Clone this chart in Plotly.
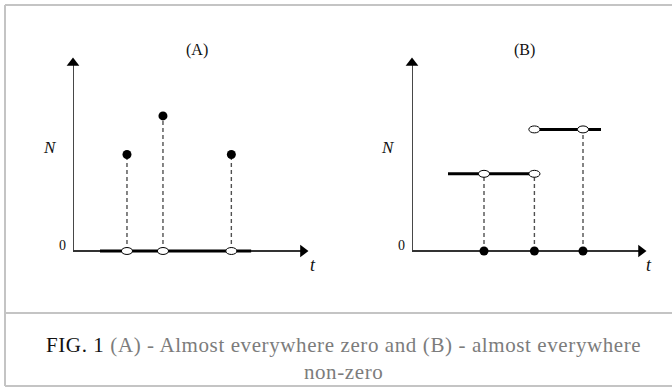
import plotly.graph_objects as go

W, H = 672, 387

# ---- data ----
# Panel A: almost everywhere zero
events_A = [1.5, 2.5, 4.4]          # event times
values_A = [5, 7, 5]                # N at events
support_A = [0.75, 4.95]            # zero segment drawn on t axis

# Panel B: almost everywhere non-zero
events_B = [2.0, 3.4, 4.75]
levels_B = [4, 4, 6.3]              # level at open circle for each event
step_B_x = [[1.0, 3.4], [3.4, 5.25]]
step_B_y = [4, 6.3]

x_max_A, x_max_B, y_min, y_max = 6.53, 6.5, -0.5, 10
axis_head_x, axis_head_y = 6.39, 9.74

caption_bold = "FIG. 1"
caption_line1 = "(A) - Almost everywhere zero and (B) - almost everywhere"
caption_line2 = "non-zero"

def px_x(p):
    return p / W

def px_y(p):
    return 1 - p / H

fig = go.Figure()

AX = "#333333"
DASH = "#505050"
DASH_STYLE = "4px,3px"
OPEN_RX, OPEN_RY = 0.155, 0.18     # half sizes of open ellipses (data units)

def add_axes(xa, ya, head_x):
    fig.add_trace(go.Scatter(x=[0, head_x], y=[0, 0], mode="lines",
                             line=dict(color=AX, width=1.8), xaxis=xa, yaxis=ya,
                             hoverinfo="skip", showlegend=False, cliponaxis=False))
    fig.add_trace(go.Scatter(x=[0, 0], y=[0, axis_head_y], mode="lines",
                             line=dict(color=AX, width=1.8), xaxis=xa, yaxis=ya,
                             hoverinfo="skip", showlegend=False, cliponaxis=False))
    fig.add_trace(go.Scatter(x=[head_x], y=[0], mode="markers",
                             marker=dict(symbol="triangle-right", size=11, color="black"),
                             xaxis=xa, yaxis=ya, hoverinfo="skip", showlegend=False,
                             cliponaxis=False))
    fig.add_trace(go.Scatter(x=[0], y=[axis_head_y], mode="markers",
                             marker=dict(symbol="triangle-up", size=11, color="black"),
                             xaxis=xa, yaxis=ya, hoverinfo="skip", showlegend=False,
                             cliponaxis=False))

def add_open(xs, ys, xa, ya):
    for t, v in zip(xs, ys):
        fig.add_shape(type="circle", xref=xa, yref=ya,
                      x0=t - OPEN_RX, x1=t + OPEN_RX, y0=v - OPEN_RY, y1=v + OPEN_RY,
                      fillcolor="white", line=dict(color="black", width=1), layer="above")

# ---- Panel A ----
add_axes("x", "y", axis_head_x)
fig.add_trace(go.Scatter(x=support_A, y=[0, 0], mode="lines",
                         line=dict(color="black", width=3), xaxis="x", yaxis="y",
                         showlegend=False, cliponaxis=False))
for t, n in zip(events_A, values_A):
    fig.add_trace(go.Scatter(x=[t, t], y=[0, n], mode="lines",
                             line=dict(color=DASH, width=1.4, dash=DASH_STYLE),
                             xaxis="x", yaxis="y", showlegend=False, cliponaxis=False))
fig.add_trace(go.Scatter(x=events_A, y=values_A, mode="markers",
                         marker=dict(size=9, color="black"), xaxis="x", yaxis="y",
                         showlegend=False, cliponaxis=False))
add_open(events_A, [0] * len(events_A), "x", "y")

# ---- Panel B ----
add_axes("x2", "y2", axis_head_x * x_max_B / x_max_A)
for xs, lv in zip(step_B_x, step_B_y):
    fig.add_trace(go.Scatter(x=xs, y=[lv, lv], mode="lines",
                             line=dict(color="black", width=3), xaxis="x2", yaxis="y2",
                             showlegend=False, cliponaxis=False))
for t, lv in zip(events_B, levels_B):
    fig.add_trace(go.Scatter(x=[t, t], y=[0, lv], mode="lines",
                             line=dict(color=DASH, width=1.4, dash=DASH_STYLE),
                             xaxis="x2", yaxis="y2", showlegend=False, cliponaxis=False))
open_x = [events_B[0], events_B[1], events_B[1], events_B[2]]
open_y = [step_B_y[0], step_B_y[0], step_B_y[1], step_B_y[1]]
add_open(open_x, open_y, "x2", "y2")
fig.add_trace(go.Scatter(x=events_B, y=[0] * len(events_B), mode="markers",
                         marker=dict(size=9, color="black"), xaxis="x2", yaxis="y2",
                         showlegend=False, cliponaxis=False))

PX_PER_Y = (251 - 58) / y_max
y_bottom_px = 251 - y_min * PX_PER_Y

ax_common = dict(visible=False, showgrid=False, zeroline=False, fixedrange=True)
fig.update_layout(
    width=W, height=H,
    margin=dict(l=0, r=0, t=0, b=0),
    paper_bgcolor="white", plot_bgcolor="rgba(0,0,0,0)",
    xaxis=dict(domain=[px_x(73), px_x(308)], range=[0, x_max_A], **ax_common),
    yaxis=dict(domain=[px_y(y_bottom_px), px_y(58)], range=[y_min, y_max], **ax_common),
    xaxis2=dict(domain=[px_x(412), px_x(646)], range=[0, x_max_B], anchor="y2", **ax_common),
    yaxis2=dict(domain=[px_y(y_bottom_px), px_y(58)], range=[y_min, y_max], anchor="x2", **ax_common),
    showlegend=False,
)

serif = "Liberation Serif"
labels = [
    ("(A)", 197, 50, 16),
    ("(B)", 524, 50, 16),
    ("<i>N</i>", 50, 147, 17),
    ("<i>N</i>", 388, 147, 17),
    ("0", 62, 245, 14),
    ("0", 401, 245, 14),
    ("<i>t</i>", 313, 265, 18),
    ("<i>t</i>", 649, 265, 18),
]
for txt, x, y, s in labels:
    fig.add_annotation(text=txt, x=px_x(x), y=px_y(y), xref="paper", yref="paper",
                       showarrow=False, xanchor="center", yanchor="middle",
                       font=dict(family=serif, size=s, color="#111111"))

fig.add_annotation(
    text=(f"<span style='color:#111111;letter-spacing:0.6px'>{caption_bold}</span>"
          f"<span style='letter-spacing:0.6px'> {caption_line1}</span><br>"
          f"<span style='letter-spacing:0.6px'>{caption_line2}</span>"),
    x=px_x(343), y=px_y(358), xref="paper", yref="paper", showarrow=False,
    xanchor="center", yanchor="middle", align="center",
    font=dict(family=serif, size=21, color="#7c7c7c"),
)

# border boxes
BORDER = "#c4c4c4"
fig.add_shape(type="line", xref="paper", yref="paper", x0=px_x(5), x1=1, y0=px_y(5), y1=px_y(5),
              line=dict(color=BORDER, width=2))
fig.add_shape(type="line", xref="paper", yref="paper", x0=px_x(5), x1=px_x(5), y0=px_y(5), y1=px_y(386),
              line=dict(color=BORDER, width=2))
fig.add_shape(type="line", xref="paper", yref="paper", x0=px_x(5), x1=1, y0=px_y(313), y1=px_y(313),
              line=dict(color=BORDER, width=2))
fig.add_shape(type="line", xref="paper", yref="paper", x0=px_x(5), x1=1, y0=px_y(386), y1=px_y(386),
              line=dict(color=BORDER, width=2))

fig.write_html("out.html", config={"displayModeBar": False},
               post_script="document.body.style.margin='0';document.body.style.overflow='hidden';")
